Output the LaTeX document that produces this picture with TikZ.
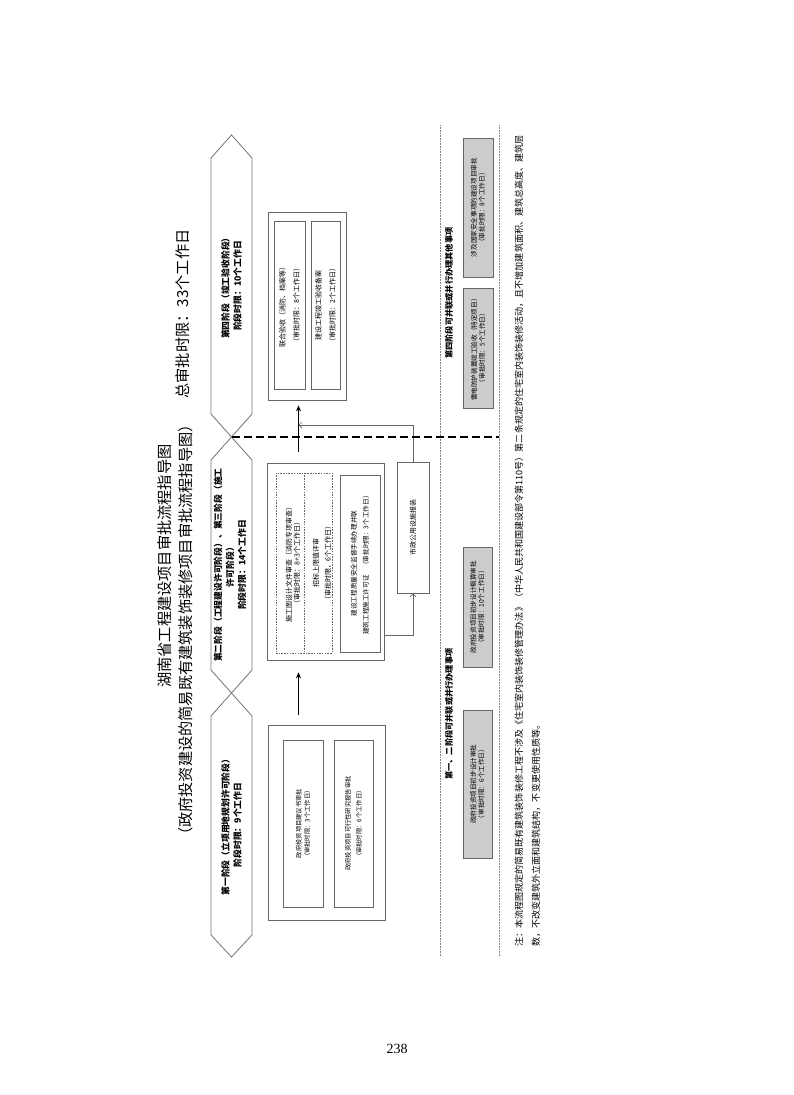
\documentclass[tikz,border=0pt]{standalone}
\usepackage{fontspec}
\setmainfont{Noto Sans CJK SC}
\newfontfamily\serifnum{Liberation Serif}
\usetikzlibrary{arrows.meta,calc}
\tikzset{
  hex/.style={draw=black!55, line width=0.8pt},
  cbox/.style={draw=black!60, line width=0.8pt, rectangle, inner sep=0pt},
  ibox/.style={draw=black!60, line width=0.8pt, rectangle, rotate=90, align=center, inner sep=0pt, font=\fontsize{7}{14}\selectfont},
  gbox/.style={draw=black!60, fill=black!20, line width=0.8pt, rectangle, rotate=90, align=center, inner sep=0pt, font=\fontsize{6.6}{8}\selectfont},
  rtext/.style={rotate=90, align=center, inner sep=0pt},
  stagelbl/.style={rtext, font=\bfseries\fontsize{8.8}{12}\selectfont},
  sidel/.style={draw=black!50, line width=0.6pt, densely dotted},
  flow/.style={line width=1.6pt, -{Stealth[length=6pt,width=5pt]}},
  smallarrow/.style={draw=black!60, line width=0.7pt, -{Straight Barb[length=3pt,width=6pt]}},
  dashsep/.style={line width=1.6pt, dash pattern=on 8pt off 4pt},
  fdash/.style={draw=black!60, line width=0.7pt, dash pattern=on 1.5pt off 1.2pt},
}
\begin{document}
\begin{tikzpicture}[x=1pt,y=-1pt]
\useasboundingbox (0,0) rectangle (793,1095);
\fill[white] (0,0) rectangle (793,1095);

% titles
\node[rtext, font=\fontsize{15.2}{18}\selectfont] (t1) at (165,566) {湖南省工程建设项目审批流程指导图};
\node[rtext, font=\fontsize{15.2}{18}\selectfont] (t2) at (186,630) {（政府投资建设的简易既有建筑装饰装修项目审批流程指导图）};
\node[rtext, font=\fontsize{15.2}{18}\selectfont] (t3) at (183,314) {总审批时限：33个工作日};

% stage hexagons
\coordinate (h4t) at (231.5,135);
\coordinate (x34) at (231.5,437);
\coordinate (x12) at (231.5,693);
\coordinate (h1b) at (231.5,957);
\draw[hex] (h4t) -- (252,158) -- (252,414) -- (x34) -- (211,414) -- (211,158) -- cycle;
\draw[hex] (x34) -- (252,460) -- (252,670) -- (x12) -- (211,670) -- (211,460) -- cycle;
\draw[hex] (x12) -- (252,716) -- (252,935) -- (h1b) -- (211,935) -- (211,716) -- cycle;
\node[stagelbl] (s4) at (231.5,286) {第四阶段（竣工验收阶段）\\阶段时限：10个工作日};
\node[stagelbl] (s23) at (230,565) {第二阶段（工程建设许可阶段）、第三阶段（施工\\许可阶段）\\阶段时限：14个工作日};
\node[stagelbl] (s1) at (231.5,825) {第一阶段（立项用地规划许可阶段）\\阶段时限：9个工作日};

% stage 4 container
\node[cbox, minimum width=78pt, minimum height=188pt] (c4) at (307,306) {};
\node[ibox, minimum width=168pt, minimum height=31pt] (b4a) at (289.5,305) {联合验收（消防、档案等）\\（审批时限：8个工作日）};
\node[ibox, minimum width=168pt, minimum height=29pt] (b4b) at (325.5,305) {建设工程竣工验收备案\\（审批时限：2个工作日）};

% stage 2-3 container
\node[cbox, minimum width=117pt, minimum height=197pt] (c23) at (325.5,561.5) {};
\node[cbox, fdash, minimum width=56pt, minimum height=180pt] (d23) at (304,563) {};
\draw[fdash] (d23.north) -- (d23.south);
\node[rtext, font=\fontsize{7}{8}\selectfont] (t23a) at (293,563) {施工图设计文件审查（消防专项审查）\\（审批时限：8+3个工作日）};
\node[rtext, font=\fontsize{7}{12}\selectfont] (t23b) at (322,563) {招标上限值评审\\（审批时限，6个工作日）};
\node[ibox, font=\fontsize{6.6}{12}\selectfont, minimum width=177pt, minimum height=40pt] (s23b) at (360,563.5) {建设工程质量安全监督手续办理并联\\建筑工程施工许可证\quad（审批时限：3个工作日）};

% municipal box
\node[ibox, font=\fontsize{6.9}{8}\selectfont, minimum width=131pt, minimum height=32pt] (m) at (413,527.5) {市政公用设施报装};

% stage 1 container
\node[cbox, minimum width=117pt, minimum height=195pt] (c1) at (326.5,822.5) {};
\node[ibox, font=\fontsize{6.3}{8.5}\selectfont, minimum width=167pt, minimum height=40pt] (b1a) at (303,823.5) {政府投资项目建议书审批\\（审批时限：3个工作日）};
\node[ibox, font=\fontsize{6.3}{11}\selectfont, minimum width=167pt, minimum height=39pt] (b1b) at (353.5,823.5) {政府投资项目可行性研究报告审批\\（审批时限：6个工作日）};

% main flow arrows
\coordinate (ax) at (298.5,0);
\coordinate (jn) at (298.5,425);
\draw[flow, shorten <=10pt, shorten >=12pt] (c1.north -| ax) -- (c23.south -| ax);
\draw[flow, shorten <=11pt, shorten >=5pt] (c23.north -| ax) -- (c4.south -| ax);

% municipal connectors
\draw[smallarrow] ([yshift=-73.5pt]c23.east) -| (m.west);
\draw[smallarrow] (m.east) |- (jn);

% side rules
\coordinate (r1t) at (440,125);
\coordinate (r1b) at (440,957);
\coordinate (r2t) at (499,125);
\coordinate (r2b) at (499,957);
\draw[sidel] (r1t) -- (r1b);
\draw[sidel] (r2t) -- (r2b);

% stage separator
\draw[dashsep] (x34) -- (r2t |- x34);

% parallel matters
\node[rtext, font=\bfseries\fontsize{8.2}{10}\selectfont] (p4) at (449,293) {第四阶段可并联或并行办理其他事项};
\node[rtext, font=\bfseries\fontsize{8.2}{10}\selectfont] (p12) at (449,714) {第一、二阶段可并联或并行办理事项};
\node[gbox, minimum width=120pt, minimum height=30pt] (gA) at (478,348) {雷电防护装置竣工验收（特定项目）\\（审批时限：5个工作日）};
\node[gbox, minimum width=139pt, minimum height=30pt] (gB) at (478,207.5) {涉及国家安全事项的建设项目审批\\（审批时限：8个工作日）};
\node[gbox, minimum width=120pt, minimum height=29pt] (gC) at (477.5,607) {政府投资项目初步设计概算审批\\（审批时限：10个工作日）};
\node[gbox, minimum width=148pt, minimum height=29pt] (gD) at (477.5,784) {政府投资项目初步设计审批\\（审批时限：6个工作日）};

% note
\node[rtext, anchor=west, font=\fontsize{9.05}{11}\selectfont] (n1) at (519,947) {注：本流程图规定的简易既有建筑装饰装修工程不涉及《住宅室内装饰装修管理办法》（中华人民共和国建设部令第110号）第二条规定的住宅室内装饰装修活动，且不增加建筑面积、建筑总高度、建筑层};
\node[rtext, anchor=west, font=\fontsize{9.05}{11}\selectfont] (n2) at (536,947) {数，不改变建筑外立面和建筑结构，不变更使用性质等。};

% page number
\node[font=\serifnum\fontsize{14}{16}\selectfont] (pg) at (397,1049) {238};
\end{tikzpicture}
\end{document}
